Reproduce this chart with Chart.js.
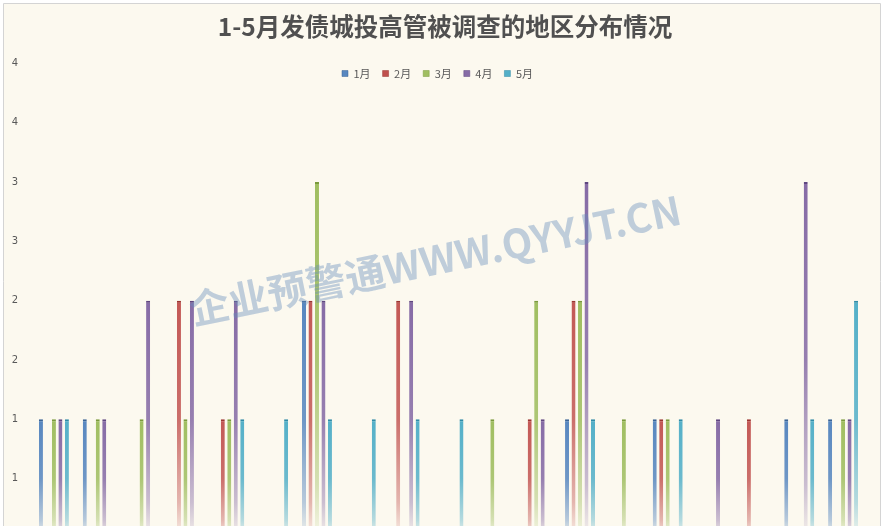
<!DOCTYPE html>
<html>
<head>
<meta charset="utf-8">
<script src="https://cdn.jsdelivr.net/npm/chart.js@4/dist/chart.umd.min.js"></script>
<style>
  html, body { margin: 0; padding: 0; background: #ffffff; overflow: hidden; width: 885px; height: 526px; }
  #wrap { position: absolute; left: 0; top: 0; width: 885px; height: 560px; }
</style>
</head>
<body>
<div id="wrap"><canvas id="c" width="885" height="560"></canvas></div>
<script>
// ---- data ----
const titleText = '1-5月发债城投高管被调查的地区分布情况';
const watermarkText = '企业预警通WWW.QYYJT.CN';
const regions = ['1','2','3','4','5','6','7','8','9','10','11','12','13','14','15','16','17','18','19'];
const seriesNames = ['1月', '2月', '3月', '4月', '5月'];
const jan = [1,1,0,0,0,0,2,0,0,0,0,0,1,0,1,0,0,1,1];
const feb = [0,0,0,2,1,0,2,0,2,0,0,1,2,0,1,0,1,0,0];
const mar = [1,1,1,1,1,0,3,0,0,0,1,2,2,1,1,0,0,0,1];
const apr = [1,1,2,2,2,0,2,0,2,0,0,1,3,0,0,1,0,3,1];
const may = [1,0,0,0,1,1,1,1,1,1,0,0,1,0,1,0,0,1,2];
const yTicks = [0, 0.5, 1, 1.5, 2, 2.5, 3, 3.5, 4];

const colors = ['#4F81BD', '#C0504D', '#9BBB59', '#8064A2', '#4BACC6'];
const capColors = ['#3A6496', '#9A3431', '#7A9A3C', '#5F4680', '#2F8BA6'];

function hexToRgba(hex, a) {
  const n = parseInt(hex.slice(1), 16);
  return 'rgba(' + ((n >> 16) & 255) + ',' + ((n >> 8) & 255) + ',' + (n & 255) + ',' + a + ')';
}

function gradFor(i) {
  return function (ctx) {
    const chart = ctx.chart;
    const base = colors[i];
    if (!chart.chartArea || ctx.raw == null || !ctx.raw) return base;
    const y = chart.scales.y;
    const top = y.getPixelForValue(ctx.raw);
    const bot = y.getPixelForValue(0);
    const g = chart.ctx.createLinearGradient(0, top, 0, bot);
    g.addColorStop(0, hexToRgba(base, 0.95));
    g.addColorStop(0.5, hexToRgba(base, 0.82));
    g.addColorStop(0.85, hexToRgba(base, 0.4));
    g.addColorStop(1, hexToRgba(base, 0.05));
    return g;
  };
}

const seriesData = [jan, feb, mar, apr, may];
const datasets = seriesNames.map((name, i) => ({
  label: name,
  data: seriesData[i],
  backgroundColor: gradFor(i),
  borderColor: capColors[i],
  borderWidth: { top: 2, left: 0, right: 0, bottom: 0 },
  borderSkipped: 'start',
  categoryPercentage: 0.74,
  barPercentage: 0.62
}));

const framePlugin = {
  id: 'frame',
  beforeLayout(chart) {
    if (chart.legend) chart.legend.isHorizontal = function () { return true; };
  },
  afterLayout(chart) {
    const lg = chart.legend;
    if (lg) {
      lg.left = 32; lg.right = 843; lg.width = 811;
      const h = lg.height;
      lg.top = 56; lg.bottom = 56 + h;
    }
    const tb = chart.titleBlock;
    if (tb) { tb.left = 0; tb.right = 890; tb.width = 890; }
  },
  beforeDraw(chart) {
    const c = chart.ctx;
    c.save();
    c.fillStyle = '#ffffff';
    c.fillRect(0, 0, chart.width, chart.height);
    c.fillStyle = '#FCF9EF';
    c.fillRect(4, 3, 876, chart.height);
    c.strokeStyle = '#D4D4D4';
    c.lineWidth = 1;
    c.beginPath();
    c.moveTo(3.5, chart.height);
    c.lineTo(3.5, 3.5);
    c.lineTo(880.5, 3.5);
    c.lineTo(880.5, chart.height);
    c.stroke();
    c.restore();
  },
  afterDraw(chart) {
    const c = chart.ctx;
    c.save();
    const x0 = 193, y0 = 325, x1 = 683, y1 = 224;
    const ang = Math.atan2(y1 - y0, x1 - x0);
    const len = Math.hypot(x1 - x0, y1 - y0);
    c.font = 'bold 40px "Noto Sans CJK SC", "Open Sans", sans-serif';
    const w = c.measureText(watermarkText).width;
    const fs = 40 * len / w;
    c.font = 'bold ' + fs.toFixed(1) + 'px "Noto Sans CJK SC", "Open Sans", sans-serif';
    c.translate(x0, y0);
    c.rotate(ang);
    c.textBaseline = 'alphabetic';
    c.textAlign = 'left';
    c.fillStyle = 'rgba(100,140,188,0.4)';
    c.fillText(watermarkText, 0, 0);
    c.restore();
  }
};

new Chart(document.getElementById('c'), {
  type: 'bar',
  data: { labels: regions, datasets: datasets },
  options: {
    responsive: false,
    animation: false,
    maintainAspectRatio: false,
    layout: { padding: { left: 0, right: 20, top: 0, bottom: 22 } },
    plugins: {
      title: {
        display: true,
        text: titleText,
        color: '#505050',
        font: { family: '"Noto Sans CJK SC", sans-serif', size: 24.5, weight: 'bold' },
        padding: { top: 12, bottom: 22 }
      },
      legend: {
        position: 'chartArea',
        align: 'center',
        labels: {
          boxWidth: 6,
          boxHeight: 6,
          padding: 12,
          color: '#595959',
          font: { family: '"Noto Sans CJK SC", sans-serif', size: 11 }
        }
      },
      tooltip: { enabled: false }
    },
    scales: {
      x: {
        display: false,
        grid: { display: false }
      },
      y: {
        min: 0,
        max: 4,
        afterBuildTicks(scale) { scale.ticks = yTicks.map(v => ({ value: v })); },
        afterFit(scale) { scale.width = 32; },
        grid: { display: false, drawTicks: false },
        border: { display: false },
        ticks: {
          padding: 14,
          color: '#595959',
          font: { family: '"DejaVu Sans", sans-serif', size: 10 },
          callback: (v) => String(Math.round(v))
        }
      }
    }
  },
  plugins: [framePlugin]
});
</script>
</body>
</html>
